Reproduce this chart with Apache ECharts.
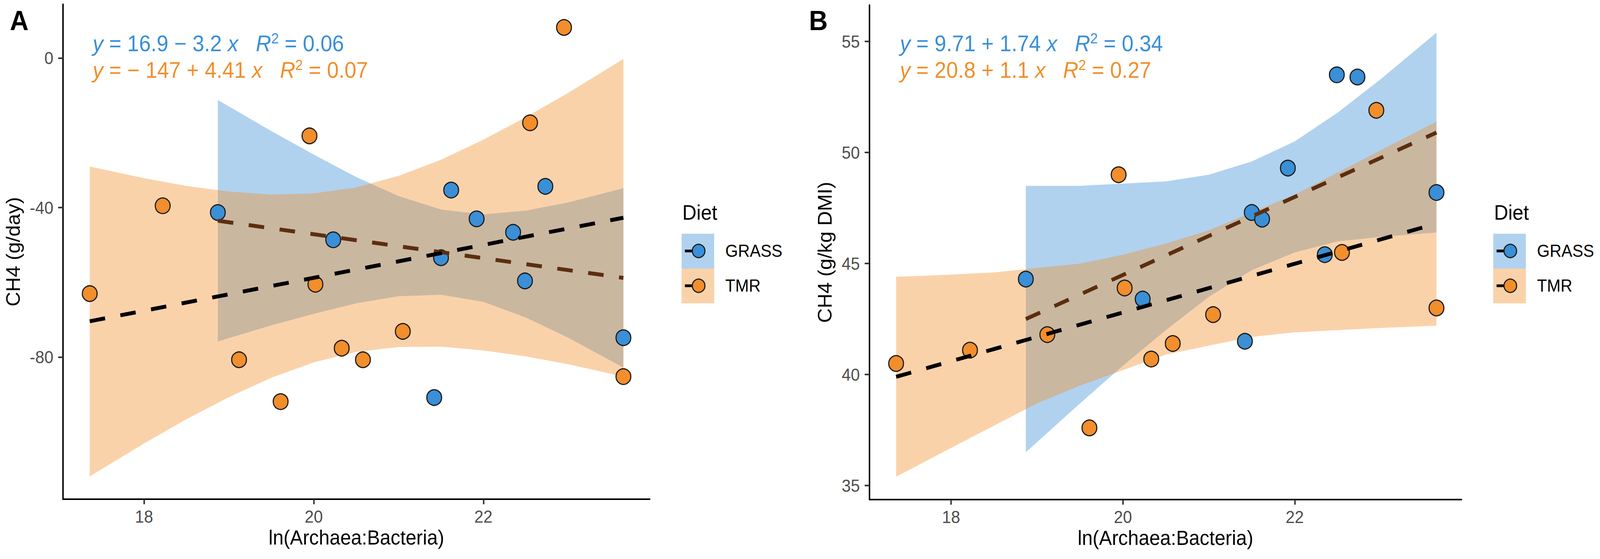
<!DOCTYPE html>
<html>
<head>
<meta charset="utf-8">
<script src="https://cdn.jsdelivr.net/npm/echarts@6/dist/echarts.min.js"></script>
<style>
  html, body { margin: 0; padding: 0; background: #fff; overflow: hidden; }
  #main { width: 4317px; height: 1430px; transform-origin: 0 0; }
</style>
</head>
<body>
<div id="main"></div>
<script>
// x values of the samples, ln(Archaea:Bacteria)
const grassX = [18.87, 20.23, 21.42, 21.50, 21.62, 21.92, 22.35, 22.49, 22.73, 23.65];
const tmrX = [17.36, 18.22, 19.12, 19.61, 19.95, 20.02, 20.33, 20.58, 21.05, 22.55, 22.95, 23.65];

// panel A: CH4 (g/day)
const grassDay = [-41.3, -48.6, -90.8, -53.4, -35.3, -43.0, -46.6, -59.6, -34.3, -74.8];
const tmrDay = [-63.0, -39.5, -80.7, -91.9, -20.8, -60.5, -77.6, -80.7, -73.1, -17.3, 8.2, -85.2];

// panel B: CH4 (g/kg DMI)
const grassDmi = [44.3, 43.4, 41.5, 47.3, 47.0, 49.3, 45.4, 53.5, 53.4, 48.2];
const tmrDmi = [40.5, 41.1, 41.8, 37.6, 49.0, 43.9, 40.7, 41.4, 42.7, 45.5, 51.9, 43.0];

// fitted lines (end points)
const grassFitDay = [[18.87, -43.5], [23.65, -58.8]];
const tmrFitDay = [[17.36, -70.4], [23.65, -42.7]];
const grassFitDmi = [[18.87, 42.5], [23.65, 50.9]];
const tmrFitDmi = [[17.36, 39.9], [23.65, 46.8]];

// confidence bands
const bandXGrass = [18.87, 19.5, 20, 20.5, 21, 21.5, 22, 22.5, 23, 23.65];
const bandXTmr = [17.36, 18, 18.5, 19, 19.5, 20, 20.5, 21, 21.5, 22, 22.5, 23, 23.65];
const grassDayUp = [-11.2, -19.5, -25.8, -31.8, -36.9, -40.5, -41.8, -40.8, -38.6, -34.8];
const grassDayLo = [-75.8, -71.5, -68.4, -65.6, -63.7, -63.3, -65.2, -69.4, -74.8, -82.8];
const tmrDayUp = [-29.0, -32.1, -34.2, -35.7, -36.5, -36.2, -34.6, -31.5, -27.2, -21.8, -15.8, -9.3, -0.2];
const tmrDayLo = [-111.9, -103.1, -96.6, -90.7, -85.5, -81.4, -78.6, -77.3, -77.2, -78.2, -79.8, -81.9, -85.2];
const grassDmiUp = [48.5, 48.5, 48.6, 48.7, 49.0, 49.6, 50.5, 51.8, 53.3, 55.4];
const grassDmiLo = [36.5, 38.7, 40.4, 42.0, 43.5, 44.7, 45.5, 46.0, 46.2, 46.4];
const tmrDmiUp = [44.4, 44.5, 44.6, 44.8, 45.0, 45.4, 45.9, 46.5, 47.3, 48.1, 49.1, 50.1, 51.4];
const tmrDmiLo = [35.4, 36.7, 37.7, 38.7, 39.5, 40.2, 40.9, 41.3, 41.7, 41.9, 42.0, 42.1, 42.2];

// tick labels
const xTicks = [18, 20, 22];
const yTicksDay = [-80, -40, 0];
const yTicksDmi = [35, 40, 45, 50, 55];

const FONT = "'Liberation Sans', Arial, sans-serif";
const BLUE = '#3a8fd6';
const ORANGE = '#f28e2b';
const BLUE_BAND = 'rgba(58,143,214,0.4)';
const ORANGE_BAND = 'rgba(242,142,43,0.4)';

// the figure is laid out on a 4317 px wide page; squeeze it if the window is narrower
const el = document.getElementById('main');
const sx = Math.min(1, window.innerWidth / 4317);
el.style.transform = 'scale(' + sx + ', 1)';

const chart = echarts.init(el, null, { renderer: 'svg' });

function band(idx, xs, lo, up, fill) {
  return {
    type: 'custom',
    xAxisIndex: idx, yAxisIndex: idx,
    silent: true, z: 1,
    data: xs.map((x, i) => [x, lo[i], up[i]]),
    encode: { x: 0, y: [1, 2] },
    renderItem: function (params, api) {
      if (params.dataIndex !== 0) return null;
      let pts = [];
      for (let i = 0; i < xs.length; i++) pts.push(api.coord([xs[i], up[i]]));
      for (let i = xs.length - 1; i >= 0; i--) pts.push(api.coord([xs[i], lo[i]]));
      return { type: 'polygon', shape: { points: pts }, style: { fill: fill } };
    }
  };
}

function points(idx, xs, ys, color) {
  return {
    type: 'scatter',
    xAxisIndex: idx, yAxisIndex: idx, z: 2,
    symbolSize: 40,
    itemStyle: { color: color, borderColor: '#1a1a1a', borderWidth: 3, opacity: 1 },
    data: xs.map((x, i) => [x, ys[i]])
  };
}

function fit(idx, data, color) {
  return {
    type: 'line',
    xAxisIndex: idx, yAxisIndex: idx, z: 3,
    showSymbol: false, silent: true,
    lineStyle: { color: color, width: 10, type: [42, 42], cap: 'butt' },
    data: data
  };
}

function xAxis(idx, min, max) {
  return {
    type: 'value', gridIndex: idx, min: min, max: max,
    name: 'ln(Archaea:Bacteria)', nameLocation: 'middle', nameGap: 72,
    nameTextStyle: { fontFamily: FONT, fontSize: 52, color: '#000' },
    axisLine: { onZero: false, lineStyle: { color: '#000', width: 4 } },
    axisTick: { customValues: xTicks, length: 13, lineStyle: { color: '#333', width: 4 } },
    axisLabel: { customValues: xTicks, margin: 23, fontFamily: FONT, fontSize: 44, color: '#4d4d4d' },
    splitLine: { show: false }
  };
}

function yAxis(idx, min, max, ticks, name, gap) {
  return {
    type: 'value', gridIndex: idx, min: min, max: max,
    name: name, nameLocation: 'middle', nameGap: gap,
    nameTextStyle: { fontFamily: FONT, fontSize: 52, color: '#000' },
    axisLine: { onZero: false, lineStyle: { color: '#000', width: 4 } },
    axisTick: { customValues: ticks, length: 13, lineStyle: { color: '#333', width: 4 } },
    axisLabel: { customValues: ticks, margin: 26, fontFamily: FONT, fontSize: 44, color: '#4d4d4d' },
    splitLine: { show: false }
  };
}

const eqRich = (color) => ({
  n: { fontFamily: FONT, fontSize: 57, color: color, lineHeight: 64 },
  i: { fontFamily: FONT, fontSize: 57, fontStyle: 'italic', color: color, lineHeight: 64 },
  s: { fontFamily: FONT, fontSize: 37, color: color, verticalAlign: 'top', lineHeight: 64 }
});

function eq(x, y, text, color) {
  return {
    type: 'text', x: x, y: y, z: 10,
    style: { text: text, rich: eqRich(color), verticalAlign: 'middle', fill: color }
  };
}

function legend(left) {
  const keys = [['GRASS', BLUE_BAND, BLUE, 598], ['TMR', ORANGE_BAND, ORANGE, 687]];
  let els = [{
    type: 'text', x: left + 2, y: 544, z: 10,
    style: { text: 'Diet', fontFamily: FONT, fontSize: 53, fill: '#000', verticalAlign: 'middle' }
  }];
  keys.forEach(function (k) {
    const cy = k[3] + 44;
    els.push({ type: 'rect', z: 10, shape: { x: left, y: k[3], width: 88, height: 89 }, style: { fill: k[1] } });
    els.push({ type: 'line', z: 11, shape: { x1: left + 9, y1: cy, x2: left + 46, y2: cy }, style: { stroke: '#000', lineWidth: 7 } });
    els.push({ type: 'circle', z: 12, shape: { cx: left + 46, cy: cy, r: 17 }, style: { fill: k[2], stroke: '#1a1a1a', lineWidth: 3 } });
    els.push({
      type: 'text', x: left + 118, y: cy, z: 10,
      style: { text: k[0], fontFamily: FONT, fontSize: 44, fill: '#000', verticalAlign: 'middle' }
    });
  });
  return els;
}

const option = {
  animation: false,
  backgroundColor: '#fff',
  grid: [
    { left: 170, top: 11, width: 1583, height: 1266, outerBoundsMode: 'none' },
    { left: 2346, top: 13, width: 1597, height: 1265, outerBoundsMode: 'none' }
  ],
  xAxis: [xAxis(0, 17.045, 23.96), xAxis(1, 17.05, 23.94)],
  yAxis: [
    yAxis(0, -118.0, 14.4, yTicksDay, 'CH4 (g/day)', 108),
    yAxis(1, 34.37, 56.64, yTicksDmi, 'CH4 (g/kg DMI)', 94)
  ],
  series: [
    band(0, bandXGrass, grassDayLo, grassDayUp, BLUE_BAND),
    band(0, bandXTmr, tmrDayLo, tmrDayUp, ORANGE_BAND),
    points(0, grassX, grassDay, BLUE),
    points(0, tmrX, tmrDay, ORANGE),
    fit(0, grassFitDay, '#5c2e10'),
    fit(0, tmrFitDay, '#000'),
    band(1, bandXGrass, grassDmiLo, grassDmiUp, BLUE_BAND),
    band(1, bandXTmr, tmrDmiLo, tmrDmiUp, ORANGE_BAND),
    points(1, grassX, grassDmi, BLUE),
    points(1, tmrX, tmrDmi, ORANGE),
    fit(1, grassFitDmi, '#5c2e10'),
    fit(1, tmrFitDmi, '#000')
  ],
  graphic: [
    { type: 'text', x: 52, y: 52, z: 10, style: { text: 'A', fontFamily: FONT, fontWeight: 'bold', fontSize: 70, fill: '#000', align: 'center', verticalAlign: 'middle' } },
    { type: 'text', x: 2208, y: 52, z: 10, style: { text: 'B', fontFamily: FONT, fontWeight: 'bold', fontSize: 70, fill: '#000', align: 'center', verticalAlign: 'middle' } },
    eq(250, 112, '{i|y}{n| = 16.9 − 3.2 }{i|x}{n|   }{i|R}{s|2}{n| = 0.06}', BLUE),
    eq(250, 180, '{i|y}{n| = − 147 + 4.41 }{i|x}{n|   }{i|R}{s|2}{n| = 0.07}', ORANGE),
    eq(2428, 112, '{i|y}{n| = 9.71 + 1.74 }{i|x}{n|   }{i|R}{s|2}{n| = 0.34}', BLUE),
    eq(2428, 180, '{i|y}{n| = 20.8 + 1.1 }{i|x}{n|   }{i|R}{s|2}{n| = 0.27}', ORANGE)
  ].concat(legend(1839), legend(4029))
};

chart.setOption(option);
</script>
</body>
</html>
